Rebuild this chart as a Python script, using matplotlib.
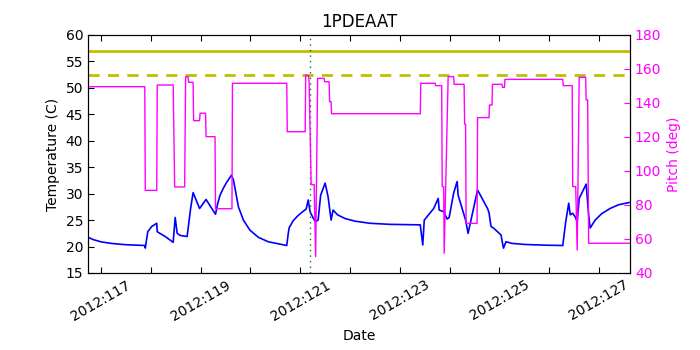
import matplotlib
matplotlib.use("Agg")
import matplotlib.pyplot as plt
from matplotlib.ticker import FixedLocator, FuncFormatter

# Temperature telemetry (day of year 2012, deg C)
temp_day = [116.74, 116.85, 117.00, 117.20, 117.50, 117.88, 117.89, 117.94, 118.02, 118.12,
            118.13, 118.29, 118.45, 118.49, 118.53, 118.59, 118.73, 118.80, 118.85, 118.98,
            119.11, 119.30, 119.34, 119.39, 119.45, 119.52, 119.62, 119.66, 119.76, 119.86,
            119.99, 120.16, 120.36, 120.73, 120.76, 120.78, 120.86, 120.95, 121.05, 121.12,
            121.16, 121.20, 121.30, 121.36, 121.41, 121.50, 121.56, 121.62, 121.66, 121.75,
            121.90, 122.10, 122.40, 122.80, 123.41, 123.46, 123.49, 123.68, 123.77, 123.79,
            123.88, 123.95, 123.99, 124.08, 124.15, 124.17, 124.32, 124.37, 124.56, 124.76,
            124.79, 124.83, 124.88, 125.03, 125.08, 125.13, 125.25, 125.50, 125.96, 126.27,
            126.33, 126.39, 126.42, 126.47, 126.52, 126.56, 126.60, 126.74, 126.79, 126.82,
            126.92, 127.05, 127.22, 127.39, 127.59, 127.62]
temp_val = [21.75, 21.3, 20.9, 20.6, 20.35, 20.2, 19.7, 22.8, 23.8, 24.4,
            22.8, 21.9, 20.8, 25.5, 22.5, 22.1, 21.9, 27.2, 30.2, 27.2,
            28.9, 26.1, 28.0, 29.7, 30.9, 32.1, 33.5, 32.6, 27.5, 25.0,
            23.1, 21.75, 20.9, 20.2, 22.5, 23.6, 24.9, 25.8, 26.6, 27.1,
            28.8, 26.5, 24.7, 25.0, 29.7, 32.0, 29.4, 25.0, 26.9, 26.0,
            25.3, 24.8, 24.4, 24.2, 24.1, 20.3, 25.0, 27.2, 29.1, 26.9,
            26.6, 25.2, 25.5, 30.1, 32.3, 29.7, 25.0, 22.5, 30.7, 27.2,
            26.4, 23.8, 23.5, 22.2, 19.7, 20.9, 20.6, 20.4, 20.25, 20.2,
            24.7, 28.2, 26.0, 26.3, 25.6, 24.7, 29.1, 31.8, 26.0, 23.5,
            25.0, 26.2, 27.2, 27.9, 28.3, 28.35]

# Pitch (deg)
pitch_day = [116.74, 117.88, 117.89, 118.12, 118.13, 118.45, 118.48, 118.68, 118.70, 118.75,
             118.76, 118.85, 118.86, 118.98, 118.99, 119.10, 119.11, 119.29, 119.30, 119.63,
             119.64, 120.73, 120.74, 121.10, 121.11, 121.17, 121.18, 121.22, 121.28, 121.31,
             121.35, 121.48, 121.49, 121.58, 121.59, 121.62, 121.63, 123.41, 123.42, 123.71,
             123.72, 123.84, 123.85, 123.88, 123.89, 123.97, 124.08, 124.09, 124.29, 124.30,
             124.32, 124.33, 124.55, 124.56, 124.79, 124.80, 124.85, 124.86, 125.05, 125.06,
             125.10, 125.11, 126.27, 126.28, 126.46, 126.47, 126.53, 126.56, 126.60, 126.73,
             126.74, 126.77, 126.79, 127.62]
pitch_val = [149.6, 149.6, 88.6, 88.6, 150.6, 150.6, 90.6, 90.6, 155.5, 155.5,
             152.2, 152.2, 129.6, 129.6, 134.0, 134.0, 120.2, 120.2, 77.8, 77.8,
             151.6, 151.6, 123.1, 123.1, 156.5, 156.0, 151.0, 92.0, 92.0, 49.6,
             154.5, 154.5, 152.5, 152.5, 140.8, 140.8, 133.7, 133.7, 151.6, 151.6,
             150.2, 150.2, 90.8, 90.8, 51.6, 155.5, 155.5, 151.0, 151.0, 127.5,
             127.5, 69.2, 69.2, 131.4, 131.4, 138.8, 138.8, 151.0, 151.0, 149.2,
             149.2, 153.9, 153.9, 150.2, 150.2, 90.8, 90.8, 53.5, 155.1, 155.1,
             141.8, 141.8, 57.5, 57.5]

planning_limit = 57.0
caution_limit = 52.5
event_day = 121.19

plt.rcParams['font.family'] = 'DejaVu Sans'
plt.rcParams['font.size'] = 10

fig = plt.figure(figsize=(7, 3.5), dpi=100)
ax = fig.add_axes([0.1257, 0.22, 0.7743, 0.68])

ax.plot(temp_day, temp_val, color='b', lw=1.2)
ax.axhline(planning_limit, color=(0.75, 0.75, 0), lw=2)
ax.axhline(caution_limit, color=(0.75, 0.75, 0), lw=2, ls='--', dashes=(4, 3))
ax.axvline(event_day, color=(0, 0.5, 0), lw=1, ls=':', dashes=(1, 3))

ax.set_xlim(116.74, 127.62)
ax.set_ylim(15, 60)
ax.set_yticks(range(15, 61, 5))
days = list(range(117, 128))
ax.xaxis.set_major_locator(FixedLocator(days))
ax.xaxis.set_major_formatter(FuncFormatter(lambda v, p: '2012:%d' % v if int(round(v)) % 2 == 1 else ''))
ax.tick_params(direction='in', length=4, top=True, labelsize=10)
ax.tick_params(axis='y', right=False)
for lab in ax.get_xticklabels():
    lab.set_rotation(30)
    lab.set_ha('center')
ax.set_xlabel('Date')
ax.set_ylabel('Temperature (C)')
ax.set_title('1PDEAAT', fontsize=12)

ax2 = ax.twinx()
ax2.plot(pitch_day, pitch_val, color='magenta', lw=1.0)
ax2.set_ylim(40, 180)
ax2.set_yticks(range(40, 181, 20))
ax2.tick_params(direction='in', length=4, colors='magenta', labelsize=10)
ax2.set_ylabel('Pitch (deg)', color='magenta')
ax2.set_xlim(116.74, 127.62)

fig.savefig('out.png', dpi=100)
